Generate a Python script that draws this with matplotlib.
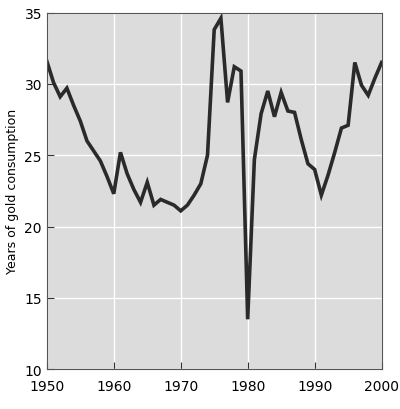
import numpy as np
import matplotlib.pyplot as plt

years = np.arange(1950, 2001)
consumption_years = [31.6, 30.1, 29.1, 29.7, 28.5, 27.4, 26.0, 25.3, 24.6, 23.5,
                     22.3, 25.2, 23.7, 22.6, 21.7, 23.1, 21.5, 21.9, 21.7, 21.5,
                     21.1, 21.5, 22.2, 23.0, 25.0, 33.8, 34.6, 28.7, 31.2, 30.9,
                     13.5, 24.7, 27.9, 29.5, 27.7, 29.4, 28.1, 28.0, 26.1, 24.4,
                     24.0, 22.2, 23.6, 25.2, 26.9, 27.1, 31.5, 29.9, 29.2, 30.4,
                     31.5]
xticks = [1950, 1960, 1970, 1980, 1990, 2000]
yticks = [10, 15, 20, 25, 30, 35]

fig = plt.figure(figsize=(4.0, 4.1), dpi=100)
ax = fig.add_axes([0.117, 0.097, 0.837, 0.87])
ax.set_facecolor('#dcdcdc')
ax.plot(years, consumption_years, color='#2a2a2a', lw=2.6, solid_joinstyle='miter')
ax.set_xlim(1950, 2000)
ax.set_ylim(10, 35)
ax.set_xticks(xticks)
ax.set_yticks(yticks)
ax.grid(True, color='white', lw=1)
ax.set_axisbelow(True)
for s in ax.spines.values():
    s.set_color('#555555')
ax.tick_params(direction='in', length=5, labelsize=10, color='#333333')
ax.tick_params(axis='x', pad=7)
ax.set_ylabel('Years of gold consumption', fontsize=9)
fig.savefig('out.png')
